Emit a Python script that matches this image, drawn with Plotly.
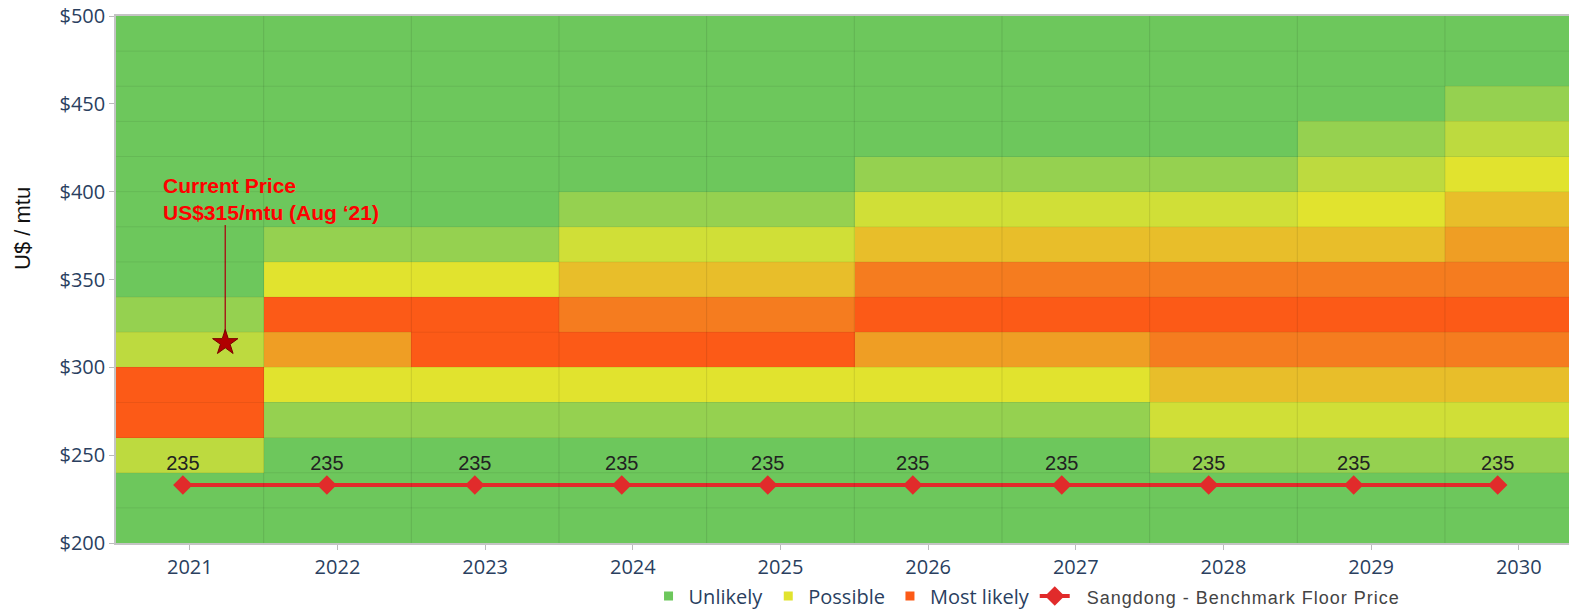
import plotly.graph_objects as go

# ---------------- data ----------------
years = [2021, 2022, 2023, 2024, 2025, 2026, 2027, 2028, 2029, 2030]
price_bins = [210, 230, 250, 270, 290, 310, 330, 350, 370, 390, 410, 430, 450, 470, 490]  # bin centres ($20 bins, 200-500)

# likelihood level per price bin (bottom -> top), 0 = unlikely ... 8 = most likely
level_2021 = [0, 0, 2, 8, 8, 2, 1, 0, 0, 0, 0, 0, 0, 0, 0]
level_2022 = [0, 0, 0, 1, 4, 6, 8, 4, 1, 0, 0, 0, 0, 0, 0]
level_2023 = [0, 0, 0, 1, 4, 8, 8, 4, 1, 0, 0, 0, 0, 0, 0]
level_2024 = [0, 0, 0, 1, 4, 8, 7, 5, 3, 1, 0, 0, 0, 0, 0]
level_2025 = [0, 0, 0, 1, 4, 8, 7, 5, 3, 1, 0, 0, 0, 0, 0]
level_2026 = [0, 0, 0, 1, 4, 6, 8, 7, 5, 3, 1, 0, 0, 0, 0]
level_2027 = [0, 0, 0, 1, 4, 6, 8, 7, 5, 3, 1, 0, 0, 0, 0]
level_2028 = [0, 0, 1, 3, 5, 7, 8, 7, 5, 3, 1, 0, 0, 0, 0]
level_2029 = [0, 0, 1, 3, 5, 7, 8, 7, 5, 4, 2, 1, 0, 0, 0]
level_2030 = [0, 0, 1, 3, 5, 7, 8, 7, 6, 5, 4, 2, 1, 0, 0]

level_colors = ["#6DC75C", "#95D150", "#BDDA3F", "#D0DF37", "#E1E32E",
                "#E8BE2A", "#EF9E24", "#F57C1F", "#FC5A17"]

floor_x = [2020.953, 2021.928, 2022.93, 2023.925, 2024.914,
           2025.896, 2026.905, 2027.9, 2028.882, 2029.857]
floor_y = [233, 233, 233, 233, 233, 233, 233, 233, 233, 233]
floor_labels = ["235"] * 10

current_x = [2021.24]
current_y = [314]
current_label = "Current Price<br>US$315/mtu (Aug \u201821)"

legend_names = ["Unlikely", "Possible", "Most likely"]
legend_colors = ["#6DC75C", "#E1E32E", "#FC5A17"]

# ---------------- figure ----------------
columns = [level_2021, level_2022, level_2023, level_2024, level_2025,
           level_2026, level_2027, level_2028, level_2029, level_2030]
z = [[columns[c][r] for c in range(len(years))] for r in range(len(price_bins))]

n = len(level_colors)
colorscale = []
for i, col in enumerate(level_colors):
    colorscale.append([i / n, col])
    colorscale.append([(i + 1) / n, col])

fig = go.Figure()
fig.add_trace(go.Heatmap(
    x=years, y=price_bins, z=z, colorscale=colorscale,
    zmin=-0.5, zmax=n - 0.5, showscale=False, hoverinfo="skip",
))

# legend dummies
for name, col in zip(legend_names, legend_colors):
    fig.add_trace(go.Scatter(
        x=[None], y=[None], mode="markers", name=name,
        marker=dict(symbol="square", size=9, color=col),
    ))

fig.add_trace(go.Scatter(
    x=floor_x, y=floor_y, mode="lines+markers+text",
    name="<span style='color:#444;font-family:Arial;font-size:18px;letter-spacing:1px'>  Sangdong - Benchmark Floor Price</span>",
    line=dict(color="#E12B2B", width=4),
    marker=dict(symbol="diamond", size=15, color="#E12B2B"),
    text=floor_labels, textposition="top center",
    textfont=dict(family="Arial", size=20, color="#222222"),
))

# current price marker + leader line
fig.add_trace(go.Scatter(
    x=[current_x[0], current_x[0]], y=[current_y[0], 381], mode="lines",
    line=dict(color="#A3201A", width=1.5), showlegend=False, hoverinfo="skip",
))
fig.add_trace(go.Scatter(
    x=current_x, y=current_y, mode="markers", showlegend=False,
    marker=dict(symbol="star", size=19, color="#B00000", line=dict(color="#7A0000", width=1)),
))

fig.add_annotation(
    x=2020.804, y=380.5, xref="x", yref="y", text="<b>" + current_label + "</b>",
    showarrow=False, xanchor="left", yanchor="bottom", align="left",
    font=dict(family="Arial", size=21, color="#FF0000"),
)

W, H = 1569, 609
L, T, B = 116, 16, 66
PH = H - B - T

# y-axis title
fig.add_annotation(
    x=(22 - L) / (W - L), y=(H - B - 229) / PH,
    xref="paper", yref="paper", xanchor="center", yanchor="middle",
    text="U$ / mtu", showarrow=False,
    textangle=-90, font=dict(family="Arial", size=22, color="#111111"),
)

# cell borders
shapes = []
for i in range(len(years) - 1):
    xb = (years[i] + years[i + 1]) / 2
    shapes.append(dict(type="line", xref="x", yref="paper", x0=xb, x1=xb, y0=0, y1=1,
                       line=dict(color="rgba(0,0,0,0.10)", width=1), layer="above"))
for yb in range(220, 500, 20):
    shapes.append(dict(type="line", xref="paper", yref="y", x0=0, x1=1, y0=yb, y1=yb,
                       line=dict(color="rgba(0,0,0,0.07)", width=1), layer="above"))

fig.update_layout(
    width=W, height=H,
    margin=dict(l=L, r=0, t=T, b=B, autoexpand=False),
    paper_bgcolor="white", plot_bgcolor="white",
    shapes=shapes,
    showlegend=True,
    legend=dict(orientation="h", x=0.627, xanchor="center",
                y=(H - B - 596) / PH, yanchor="middle",
                font=dict(family="Open Sans", size=20, color="#2a3f5f"),
                itemwidth=30, tracegroupgap=0, bgcolor="rgba(0,0,0,0)"),
    font=dict(family="Open Sans"),
)
fig.update_xaxes(
    range=[2020.5, 2030.34], tickvals=years, ticktext=[str(y) for y in years],
    ticks="outside", ticklen=5, tickcolor="#bbbbbb", automargin=False,
    ticklabeloverflow="allow",
    tickfont=dict(family="Open Sans", size=20, color="#2a3f5f"),
    showline=True, linecolor="#c4c4c4", linewidth=1.5, mirror=True,
    showgrid=False, zeroline=False,
)
fig.update_yaxes(
    range=[200, 500], tickvals=[200, 250, 300, 350, 400, 450, 500],
    ticktext=["$200", "$250", "$300", "$350", "$400", "$450", "$500"],
    ticks="outside", ticklen=5, tickcolor="#bbbbbb", automargin=False,
    ticklabeloverflow="allow",
    tickfont=dict(family="Open Sans", size=20, color="#2a3f5f"),
    showline=True, linecolor="#c4c4c4", linewidth=1.5, mirror=True,
    showgrid=False, zeroline=False,
)

fig.write_html(
    "out.html",
    config={"displayModeBar": False},
    post_script="document.body.style.margin='0';document.body.style.overflow='hidden';",
)
